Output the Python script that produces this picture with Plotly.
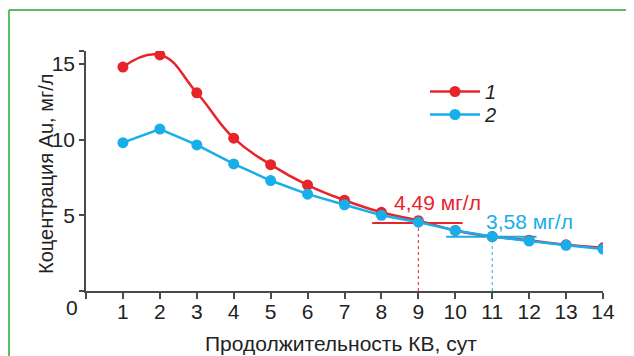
import plotly.graph_objects as go

days = list(range(1, 15))
series1 = [14.8, 15.6, 13.1, 10.1, 8.35, 7.0, 6.0, 5.2, 4.65, 4.0, 3.6, 3.35, 3.05, 2.85]
series2 = [9.8, 10.7, 9.65, 8.4, 7.3, 6.4, 5.7, 5.0, 4.55, 4.0, 3.6, 3.3, 3.02, 2.77]
names = ["1", "2"]

level1 = 4.49
level1_day = 9
level1_span = [7.75, 10.2]
level1_label = "4,49 мг/л"
level2 = 3.58
level2_day = 11
level2_span = [9.75, 12.2]
level2_label = "3,58 мг/л"

x_title = "Продолжительность КВ, сут"
y_title = "Коцентрация Au, мг/л"
x_ticks = list(range(0, 15))
y_ticks = [0, 5, 10, 15]
y_max = 15.86

RED = "#E8242B"
BLUE = "#17AEE9"
AXIS = "#4a4a4a"
TEXT = "#222222"
FONT = "Liberation Sans, Arial, sans-serif"

fig = go.Figure()

fig.add_trace(go.Scatter(x=level1_span, y=[level1, level1], mode="lines",
                         line=dict(color=RED, width=2), showlegend=False, hoverinfo="skip"))
fig.add_trace(go.Scatter(x=level2_span, y=[level2, level2], mode="lines",
                         line=dict(color=BLUE, width=2), showlegend=False, hoverinfo="skip"))
fig.add_trace(go.Scatter(x=[level1_day, level1_day], y=[0, level1], mode="lines",
                         line=dict(color=RED, width=1, dash="dot"), showlegend=False, hoverinfo="skip"))
fig.add_trace(go.Scatter(x=[level2_day, level2_day], y=[0, level2], mode="lines",
                         line=dict(color=BLUE, width=1, dash="dot"), showlegend=False, hoverinfo="skip"))

fig.add_trace(go.Scatter(x=days, y=series1, name=names[0], mode="lines+markers",
                         line=dict(color=RED, width=2.5, shape="spline", smoothing=1.3),
                         marker=dict(color=RED, size=11), legend="legend"))
fig.add_trace(go.Scatter(x=days, y=series2, name=names[1], mode="lines+markers",
                         line=dict(color=BLUE, width=2.5),
                         marker=dict(color=BLUE, size=11), legend="legend2"))

fig.add_annotation(x=9.53, y=5.86, text=level1_label, showarrow=False, yanchor="middle",
                   font=dict(color=RED, size=21, family=FONT))
fig.add_annotation(x=12.0, y=4.62, text=level2_label, showarrow=False, yanchor="middle",
                   font=dict(color=BLUE, size=21, family=FONT))
fig.add_annotation(x=0, y=0, xref="x", yref="y", text="0", showarrow=False,
                   xshift=-14, yshift=-16, font=dict(color=TEXT, size=21, family=FONT))
# axis titles
fig.add_annotation(x=(38 - 78) / 517, y=(283 - 166) / 240, xref="paper", yref="paper",
                   text=y_title, textangle=-90, showarrow=False,
                   xanchor="center", yanchor="middle",
                   font=dict(color=TEXT, size=20, family=FONT))
fig.add_annotation(x=(333 - 78) / 517, y=(283 - 335) / 240, xref="paper", yref="paper",
                   text=x_title, showarrow=False, xanchor="center", yanchor="middle",
                   font=dict(color=TEXT, size=21, family=FONT))

# green frame (left and top edges)
fig.add_shape(type="line", xref="paper", yref="paper", x0=-0.149, x1=-0.149, y0=1.171, y1=-0.4,
              line=dict(color="#5DBB63", width=2))
fig.add_shape(type="line", xref="paper", yref="paper", x0=-0.149, x1=1.2, y0=1.171, y1=1.171,
              line=dict(color="#5DBB63", width=2))

leg_common = dict(xanchor="left", yanchor="top", itemwidth=50,
                  font=dict(size=20, family=FONT, style="italic", color=TEXT),
                  bgcolor="rgba(0,0,0,0)", borderwidth=0)
fig.update_layout(
    width=626, height=348,
    margin=dict(l=78, r=31, t=43, b=65, autoexpand=False),
    paper_bgcolor="white", plot_bgcolor="white",
    font=dict(family=FONT, color=TEXT, size=20),
    legend=dict(x=(417 - 78) / 517, y=0.9125, **leg_common),
    legend2=dict(x=(417 - 78) / 517, y=0.8167, **leg_common),
    showlegend=True,
)
fig.update_xaxes(range=[0, 14], tickvals=x_ticks, automargin=False,
                 ticktext=[""] + [str(v) for v in x_ticks[1:]],
                 showgrid=False, zeroline=False, showline=True, linecolor=AXIS, linewidth=1.5,
                 ticks="outside", ticklen=6, tickwidth=1.5, tickcolor=AXIS, ticklabelstandoff=-5,
                 tickfont=dict(size=21, family=FONT, color=TEXT))
fig.update_yaxes(range=[0, y_max], tickvals=y_ticks + [y_max], automargin=False,
                 ticktext=[""] + [str(v) for v in y_ticks[1:]] + [""],
                 showgrid=False, zeroline=False, showline=True, linecolor=AXIS, linewidth=1.5,
                 ticks="outside", ticklen=5, tickwidth=1.5, tickcolor=AXIS,
                 tickfont=dict(size=21, family=FONT, color=TEXT))

fig.write_html("out.html")
